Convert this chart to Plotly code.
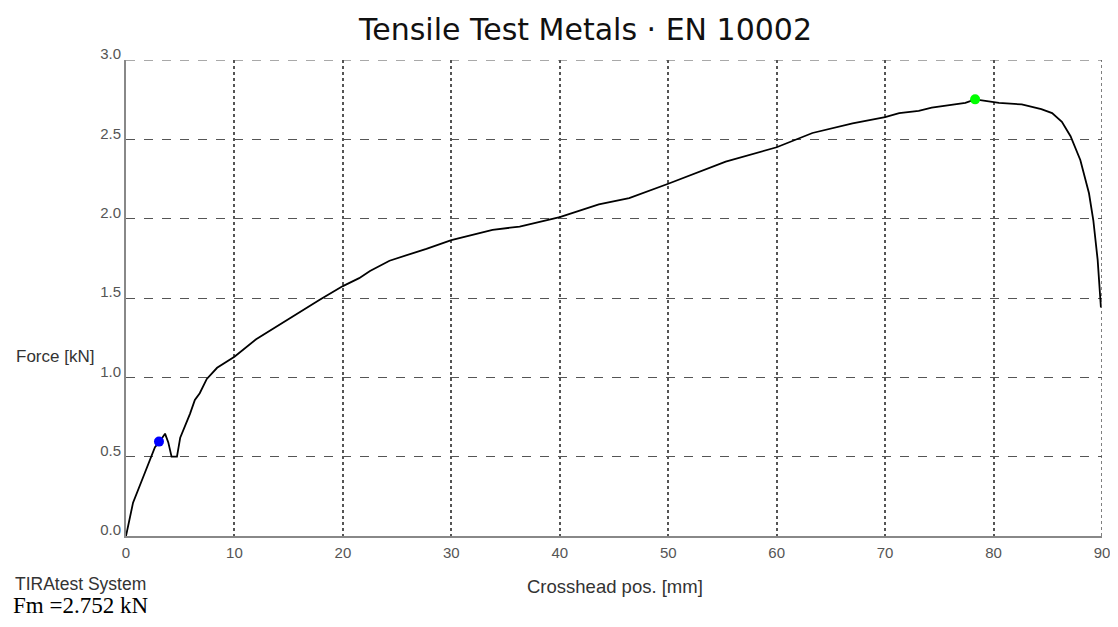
import plotly.graph_objects as go

# Crosshead position [mm]
pos_mm = [0, 0.65, 1.75, 2.67, 3.04, 3.6, 3.9, 4.2, 4.7, 5.0, 5.9, 6.35, 6.8, 7.45, 8.4,
          10, 12, 14.8, 17.9, 20, 21.5, 22.5, 24.3, 27.7, 30, 33.8, 36.3, 40, 43.6,
          46.4, 50, 55.3, 60, 63.3, 67, 70, 71.3, 73.1, 74.3, 77.4, 78.3, 80.5, 82.6,
          84.4, 85.4, 86.3, 87.1, 88.0, 88.8, 89.2, 89.6, 89.9]
# Force [kN]
force_kn = [0, 0.21, 0.40, 0.56, 0.59, 0.645, 0.59, 0.50, 0.50, 0.62, 0.77, 0.857, 0.90, 0.99, 1.06,
            1.13, 1.24, 1.36, 1.49, 1.575, 1.625, 1.67, 1.735, 1.81, 1.865, 1.93, 1.95, 2.01, 2.09,
            2.13, 2.22, 2.36, 2.45, 2.54, 2.60, 2.64, 2.665, 2.68, 2.70, 2.73, 2.752, 2.73, 2.72,
            2.69, 2.665, 2.61, 2.52, 2.37, 2.16, 1.99, 1.74, 1.44]

# markers
yield_x, yield_y = [3.04], [0.595]
fm_x, fm_y = [78.3], [2.752]

x_ticks = [0, 10, 20, 30, 40, 50, 60, 70, 80, 90]
y_ticks = [0.0, 0.5, 1.0, 1.5, 2.0, 2.5, 3.0]

fig = go.Figure()
fig.add_trace(go.Scatter(x=pos_mm, y=force_kn, mode="lines",
                         line=dict(color="black", width=1.8),
                         showlegend=False, hoverinfo="skip"))
fig.add_trace(go.Scatter(x=yield_x, y=yield_y, mode="markers",
                         marker=dict(color="#0000ff", size=10, symbol="circle"), showlegend=False))
fig.add_trace(go.Scatter(x=fm_x, y=fm_y, mode="markers",
                         marker=dict(color="#00ff00", size=10, symbol="circle"), showlegend=False))

tickfont = dict(family="Liberation Sans", size=15, color="#555555")
fig.update_xaxes(range=[0, 90], tickvals=x_ticks, ticktext=[str(v) for v in x_ticks],
                 showgrid=True, gridcolor="#555555", griddash="dot", gridwidth=1.5,
                 showline=True, linecolor="#888888", linewidth=2, zeroline=False,
                 ticks="", tickfont=tickfont, ticklabelstandoff=2,
                 ticklabeloverflow="allow", automargin=False)
fig.update_yaxes(range=[0, 3.0], tickvals=y_ticks, ticktext=[f"{v:.1f}" for v in y_ticks],
                 showgrid=True, gridcolor="#555555", griddash="dash", gridwidth=1.2,
                 showline=True, linecolor="#888888", linewidth=2, zeroline=False,
                 ticks="", tickfont=tickfont, ticklabelstandoff=0, ticklabelshift=-6,
                 automargin=False)

# edge grid lines (top and right)
fig.add_shape(type="line", xref="paper", yref="y", x0=0, x1=1, y0=3.0, y1=3.0,
              line=dict(color="#555555", width=1.2, dash="dash"))
fig.add_shape(type="line", xref="x", yref="paper", x0=90, x1=90, y0=0, y1=1,
              line=dict(color="#555555", width=1.5, dash="dot"))

PW, PH = 976.0, 476.0
fig.add_annotation(text="Tensile Test Metals · EN 10002", xref="paper", yref="paper",
                   x=(585 - 126) / PW, y=1 + (60 - 29) / PH, showarrow=False,
                   xanchor="center", yanchor="middle",
                   font=dict(family="DejaVu Sans", size=30, color="#111111"))
fig.add_annotation(text="Force [kN]", xref="paper", yref="paper",
                   x=-(126 - 14) / PW, y=(536 - 356) / PH, showarrow=False,
                   xanchor="left", yanchor="middle",
                   font=dict(family="Liberation Sans", size=17, color="#333333"))
fig.add_annotation(text="Crosshead pos. [mm]", xref="paper", yref="paper",
                   x=(615 - 126) / PW, y=-(586 - 536) / PH, showarrow=False,
                   xanchor="center", yanchor="middle",
                   font=dict(family="Liberation Sans", size=18.5, color="#333333"))
fig.add_annotation(text="TIRAtest System", xref="paper", yref="paper",
                   x=-(126 - 13) / PW, y=-(584 - 536) / PH, showarrow=False,
                   xanchor="left", yanchor="middle",
                   font=dict(family="Liberation Sans", size=17.5, color="#333333"))
fig.add_annotation(text="Fm =2.752 kN", xref="paper", yref="paper",
                   x=-(126 - 11) / PW, y=-(605 - 536) / PH, showarrow=False,
                   xanchor="left", yanchor="middle",
                   font=dict(family="Liberation Serif", size=23, color="#000000"))

fig.update_layout(width=1102, height=611, margin=dict(l=118, r=8, t=52, b=83),
                  plot_bgcolor="white", paper_bgcolor="white")

fig.write_html("out.html")
